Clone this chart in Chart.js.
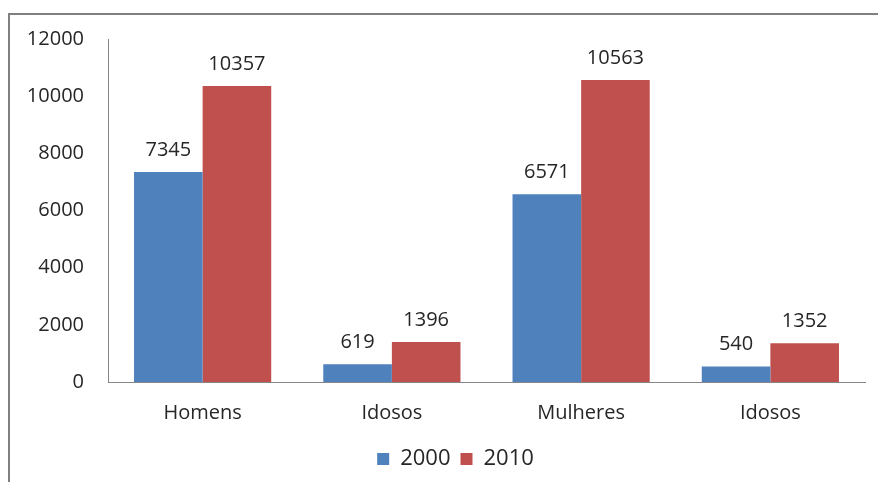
<!DOCTYPE html>
<html>
<head>
<meta charset="utf-8">
<script src="https://cdn.jsdelivr.net/npm/chart.js@4.4.0/dist/chart.umd.min.js"></script>
<style>
    html,body{margin:0;padding:0;background:#fff;}
    #wrap{width:878px;height:482px;position:relative;}
</style>
</head>
<body>
<div id="wrap"><canvas id="c" width="878" height="482"></canvas></div>
<script>
const categories=["Homens","Idosos","Mulheres","Idosos"];
const values2000=[7345,619,6571,540];
const values2010=[10357,1396,10563,1352];
const yTicks=[0,2000,4000,6000,8000,10000,12000];

const FONT="'Open Sans', 'Liberation Sans', sans-serif";
const TEXT="#262626";

// grey frame round the chart
const framePlugin={
    id:"frame",
    beforeDraw(chart){
        let ctx=chart.ctx;
        ctx.save();
        ctx.fillStyle="#fff";
        ctx.fillRect(0,0,chart.width,chart.height);
        ctx.strokeStyle="#808080";
        ctx.lineWidth=2;
        ctx.beginPath();
        ctx.moveTo(9,chart.height);
        ctx.lineTo(9,14);
        ctx.lineTo(chart.width,14);
        ctx.stroke();
        ctx.restore();
    }
};

// legend sits a bit right of the centre in the original
const legendShift={
    id:"legendShift",
    afterLayout(chart){
        if (chart.legend) {
            chart.legend.left+=23;
            chart.legend.right+=23;
        }
    }
};

// value labels over each bar
const labelPlugin={
    id:"barLabels",
    afterDatasetsDraw(chart){
        let ctx=chart.ctx;
        ctx.save();
        ctx.font="20px "+FONT;
        ctx.fillStyle=TEXT;
        ctx.textAlign="center";
        ctx.textBaseline="middle";
        chart.data.datasets.forEach((ds,i)=>{
            chart.getDatasetMeta(i).data.forEach((bar,j)=>{
                ctx.fillText(String(ds.data[j]),bar.x,bar.y-22);
            });
        });
        ctx.restore();
    }
};

new Chart(document.getElementById("c"),{
    type:"bar",
    data:{
        labels:categories,
        datasets:[
            {label:"2000",data:values2000,backgroundColor:"#4F81BD",borderWidth:0},
            {label:"2010",data:values2010,backgroundColor:"#C0504D",borderWidth:0}
        ]
    },
    options:{
        responsive:false,
        animation:false,
        layout:{padding:{left:0,right:13,top:39,bottom:2}},
        categoryPercentage:0.725,
        barPercentage:1.0,
        scales:{
            x:{
                grid:{display:false,drawTicks:false},
                border:{display:true,color:"#868686",width:1},
                ticks:{color:TEXT,font:{family:FONT,size:20},padding:19},
                afterFit(s){s.height=56;}
            },
            y:{
                min:0,max:12000,
                afterBuildTicks(s){s.ticks=yTicks.map(v=>({value:v}));},
                grid:{display:false,drawTicks:false},
                border:{display:true,color:"#868686",width:1},
                ticks:{color:TEXT,font:{family:FONT,size:20},padding:24,callback:v=>String(v)},
                afterFit(s){s.width=108;}
            }
        },
        plugins:{
            legend:{
                position:"bottom",
                labels:{
                    boxWidth:12,boxHeight:12,
                    color:TEXT,
                    font:{family:FONT,size:22},
                    padding:10
                }
            },
            tooltip:{enabled:false}
        }
    },
    plugins:[framePlugin,legendShift,labelPlugin]
});
</script>
</body>
</html>
